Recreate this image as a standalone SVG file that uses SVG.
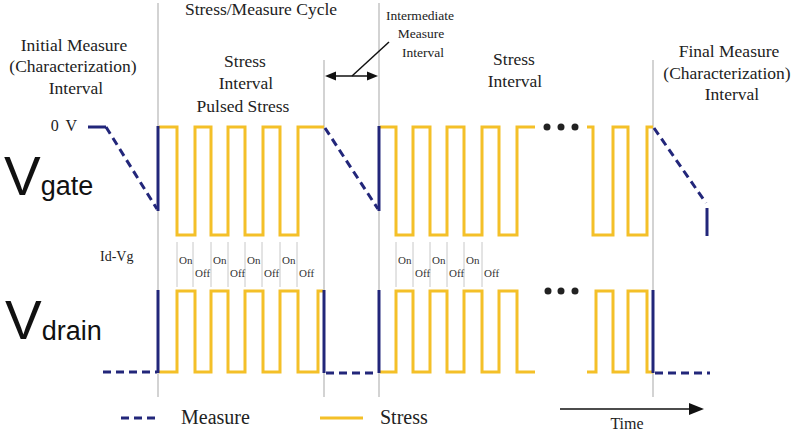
<svg xmlns="http://www.w3.org/2000/svg" width="800" height="434" viewBox="0 0 800 434">
<style>
.bg{fill:#ffffff}
.grid{stroke:#c4c4c4;stroke-width:1.5;fill:none}
.tick{stroke:#c8c8c8;stroke-width:1;fill:none}
.stress{stroke:#f4c028;stroke-width:3;fill:none;stroke-linejoin:miter}
.meas{stroke:#22267a;stroke-width:3;fill:none}
.measd{stroke:#22267a;stroke-width:3;fill:none;stroke-dasharray:8 5}
.t{font-family:"Liberation Serif","Times New Roman",serif;fill:#222;text-anchor:middle}
.ts{font-family:"Liberation Serif","Times New Roman",serif;fill:#222;text-anchor:start}
.te{font-family:"Liberation Serif","Times New Roman",serif;fill:#222;text-anchor:end}
.big{font-family:"Liberation Sans",Arial,sans-serif;fill:#111}
.sm{font-family:"Liberation Serif","Times New Roman",serif;fill:#333;font-size:11px}
.dot{fill:#222}
.arr{stroke:#111;stroke-width:1.5;fill:none}
</style>
<rect class="bg" x="0" y="0" width="800" height="434"/>

<g id="gridlines">
<line class="grid" x1="158" y1="3" x2="158" y2="397"/>
<line class="grid" x1="324" y1="60" x2="324" y2="397"/>
<line class="grid" x1="379" y1="3" x2="379" y2="397"/>
<line class="grid" x1="653" y1="60" x2="653" y2="397"/>
</g>

<g id="labels-top">
<text class="t" x="261" y="15" font-size="17.5">Stress/Measure Cycle</text>
<text class="t" x="74" y="51" font-size="17.5">Initial Measure</text>
<text class="t" x="73" y="72" font-size="17.5">(Characterization)</text>
<text class="t" x="76" y="94" font-size="17.5">Interval</text>
<text class="t" x="245" y="67" font-size="17.5">Stress</text>
<text class="t" x="246" y="89" font-size="17.5">Interval</text>
<text class="t" x="243" y="112" font-size="17.5">Pulsed Stress</text>
<text class="t" x="420" y="20" font-size="13.5">Intermediate</text>
<text class="t" x="421" y="38" font-size="13.5">Measure</text>
<text class="t" x="423" y="57" font-size="13.5">Interval</text>
<text class="t" x="514" y="65" font-size="17.5">Stress</text>
<text class="t" x="515" y="87" font-size="17.5">Interval</text>
<text class="t" x="729" y="57" font-size="17.5">Final Measure</text>
<text class="t" x="727" y="79" font-size="17.5">(Characterization)</text>
<text class="t" x="732" y="100" font-size="17.5">Interval</text>
</g>

<g id="intermediate-arrow">
<line class="arr" x1="332" y1="76" x2="371" y2="76"/>
<polygon points="325,76 336,71.5 336,80.5" fill="#111"/>
<polygon points="378,76 367,71.5 367,80.5" fill="#111"/>
<line class="arr" x1="352" y1="76" x2="389" y2="42" stroke-width="1.2"/>
</g>

<g id="vgate">
<text class="big" x="4" y="195" font-size="55">V<tspan font-size="27">gate</tspan></text>
<text class="te" x="77" y="131" font-size="16" style="word-spacing:3px">0 V</text>
<path class="stress" d="M159,127 H177 V235 H195 V127 H211 V235 H228 V127 H245 V235 H263 V127 H280 V235 H298 V127 H324"/>
<path class="stress" d="M380,127 H396 V235 H413 V127 H430 V235 H447 V127 H464 V235 H482 V127 H499 V235 H517 V127 H535"/>
<path class="stress" d="M587,127 H593 V235 H613 V127 H628 V235 H647 V127 H653"/>
<path class="meas" d="M88,127 H106"/>
<path class="measd" d="M106,127 L157,209"/>
<path class="meas" d="M158,211 V126"/>
<path class="measd" d="M325,128 L378,209"/>
<path class="meas" d="M379,211 V126"/>
<path class="measd" d="M654,128 L706,203"/>
<path class="meas" d="M707,208 V236"/>
<circle class="dot" cx="547" cy="127" r="3.5"/>
<circle class="dot" cx="561" cy="127" r="3.5"/>
<circle class="dot" cx="575" cy="127" r="3.5"/>
</g>

<g id="onoff">
<text class="ts" x="100" y="261" font-size="14">Id-Vg</text>
<g class="tick">
<line x1="177" y1="242" x2="177" y2="287"/><line x1="193" y1="242" x2="193" y2="287"/>
<line x1="211" y1="242" x2="211" y2="287"/><line x1="228" y1="242" x2="228" y2="287"/>
<line x1="245" y1="242" x2="245" y2="287"/><line x1="262" y1="242" x2="262" y2="287"/>
<line x1="280" y1="242" x2="280" y2="287"/><line x1="297" y1="242" x2="297" y2="287"/>
<line x1="396" y1="242" x2="396" y2="287"/><line x1="413" y1="242" x2="413" y2="287"/>
<line x1="430" y1="242" x2="430" y2="287"/><line x1="447" y1="242" x2="447" y2="287"/>
<line x1="464" y1="242" x2="464" y2="287"/><line x1="482" y1="242" x2="482" y2="287"/>
</g>
<text class="sm" x="179" y="264">On</text><text class="sm" x="195" y="277">Off</text>
<text class="sm" x="213" y="264">On</text><text class="sm" x="230" y="277">Off</text>
<text class="sm" x="247" y="264">On</text><text class="sm" x="264" y="277">Off</text>
<text class="sm" x="282" y="264">On</text><text class="sm" x="299" y="277">Off</text>
<text class="sm" x="398" y="264">On</text><text class="sm" x="415" y="277">Off</text>
<text class="sm" x="432" y="264">On</text><text class="sm" x="449" y="277">Off</text>
<text class="sm" x="466" y="264">On</text><text class="sm" x="484" y="277">Off</text>
</g>

<g id="vdrain">
<text class="big" x="5" y="339" font-size="55">V<tspan font-size="27" dy="1">drain</tspan></text>
<path class="stress" d="M159,372 H177 V291 H195 V372 H211 V291 H228 V372 H245 V291 H263 V372 H280 V291 H298 V372 H318 V291 H323"/>
<path class="stress" d="M380,372 H396 V291 H413 V372 H430 V291 H447 V372 H464 V291 H482 V372 H499 V291 H517 V372 H535"/>
<path class="stress" d="M587,372 H596 V291 H613 V372 H628 V291 H647 V372 H653"/>
<path class="measd" d="M103,372 H157"/>
<path class="meas" d="M158,290 V373"/>
<path class="meas" d="M324,290 V373"/>
<path class="measd" d="M326,373 H378"/>
<path class="meas" d="M379,290 V373"/>
<path class="meas" d="M653,290 V373"/>
<path class="measd" d="M655,373 H710"/>
<circle class="dot" cx="548" cy="291" r="3.5"/>
<circle class="dot" cx="561" cy="291" r="3.5"/>
<circle class="dot" cx="575" cy="291" r="3.5"/>
</g>

<g id="legend">
<path class="measd" d="M121,418 H157"/>
<text class="ts" x="181" y="424" font-size="20">Measure</text>
<path class="stress" d="M320,418 H363"/>
<text class="ts" x="380" y="424" font-size="20">Stress</text>
<line class="arr" x1="560" y1="409" x2="692" y2="409" stroke-width="2"/>
<polygon points="704,409 689,403 689,415" fill="#111"/>
<text class="t" x="627" y="429" font-size="16">Time</text>
</g>
</svg>
